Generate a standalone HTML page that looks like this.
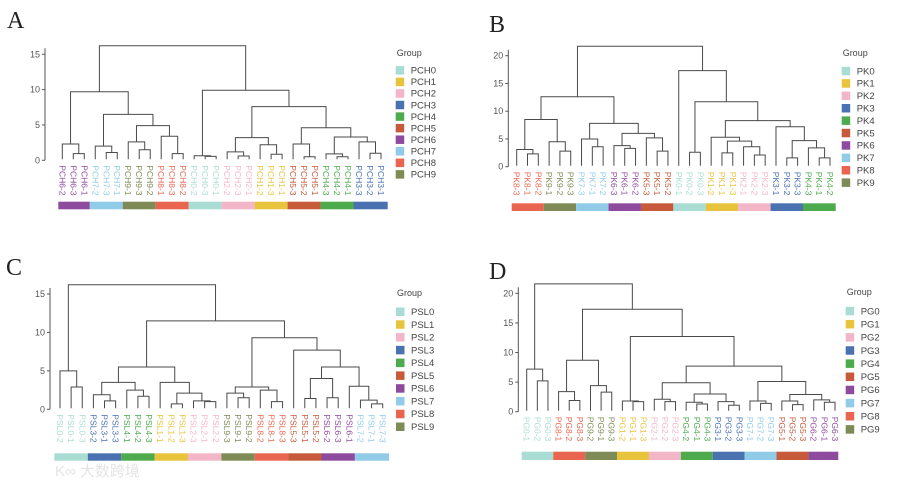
<!DOCTYPE html>
<html><head><meta charset="utf-8"><style>
html,body{margin:0;padding:0;background:#fff;}
svg{display:block;font-family:"Liberation Sans",sans-serif;}
</style></head><body>
<svg id="fig" width="900" height="489" viewBox="0 0 900 489">
<text x="55" y="476" font-family="Liberation Sans,'Noto Sans CJK SC',sans-serif" font-size="15" fill="#e4e4e4">K∞ 大数跨境</text>
</svg>
<script>
// Group colors
const groupColors = ["#a9dcd2","#e8c33c","#f2b6c8","#4a72b0","#4daa4d","#c65a3b","#8e4b9e","#90cbe8","#e9654f","#7e8b56"];
// Tick values
const ticksA = [0,5,10,15];
const ticksB = [0,5,10,15,20];
const ticksC = [0,5,10,15];
const ticksD = [0,5,10,15,20];
// Legend labels
const legendA = ["PCH0","PCH1","PCH2","PCH3","PCH4","PCH5","PCH6","PCH7","PCH8","PCH9"];
const legendB = ["PK0","PK1","PK2","PK3","PK4","PK5","PK6","PK7","PK8","PK9"];
const legendC = ["PSL0","PSL1","PSL2","PSL3","PSL4","PSL5","PSL6","PSL7","PSL8","PSL9"];
const legendD = ["PG0","PG1","PG2","PG3","PG4","PG5","PG6","PG7","PG8","PG9"];
// Trees: [mergeHeight, left, right]; leaves are sample names
const treeA = [16.2,
  [9.7,[2.3,"PCH6-2",[0.95,"PCH6-3","PCH6-1"]],
       [6.5,[2.0,"PCH7-2",[1.1,"PCH7-3","PCH7-1"]],
            [4.9,[2.6,"PCH9-1",[1.5,"PCH9-3","PCH9-2"]],[3.4,"PCH8-1",[0.95,"PCH8-3","PCH8-2"]]]]],
  [9.9,[0.65,"PCH0-2",[0.55,"PCH0-3","PCH0-1"]],
       [7.6,[3.2,[1.2,"PCH2-2",[0.6,"PCH2-3","PCH2-1"]],[2.2,"PCH1-2",[0.85,"PCH1-3","PCH1-1"]]],
            [4.6,[2.3,"PCH5-3",[0.5,"PCH5-2","PCH5-1"]],
                 [3.3,[0.9,"PCH4-3",[0.5,"PCH4-2","PCH4-1"]],[2.6,"PCH3-3",[1.0,"PCH3-2","PCH3-1"]]]]]]];
const treeB = [21.7,
  [12.6,[8.5,[3.1,"PK8-3",[2.3,"PK8-1","PK8-2"]],[4.5,"PK9-1",[2.8,"PK9-2","PK9-3"]]],
        [7.8,[5.0,"PK7-3",[3.6,"PK7-1","PK7-2"]],
             [6.0,[3.8,"PK6-3",[3.3,"PK6-1","PK6-2"]],[5.2,"PK5-3",[2.8,"PK5-1","PK5-2"]]]]],
  [17.3,"PK0-1",
        [11.7,[2.6,"PK0-2","PK0-3"],
              [8.3,[5.3,"PK1-2",[4.6,[2.5,"PK1-1","PK1-3"],[3.6,"PK2-1",[2.1,"PK2-2","PK2-3"]]]],
                   [7.2,"PK3-1",[4.7,[1.6,"PK3-2","PK3-3"],[3.4,"PK4-3",[1.6,"PK4-1","PK4-2"]]]]]]]];
const treeC = [16.2,
  [5.0,"PSL0-2",[2.9,"PSL0-1","PSL0-3"]],
  [11.5,[5.5,[3.5,[1.9,"PSL3-2",[1.1,"PSL3-1","PSL3-3"]],[2.5,"PSL4-1",[1.7,"PSL4-2","PSL4-3"]]],
             [3.5,"PSL1-1",[2.1,[0.7,"PSL1-2","PSL1-3"],[1.1,"PSL2-3",[1.0,"PSL2-1","PSL2-2"]]]]],
        [9.3,[2.9,[2.1,"PSL9-3",[1.5,"PSL9-1","PSL9-2"]],[2.5,"PSL8-2",[1.0,"PSL8-1","PSL8-3"]]],
             [7.7,"PSL5-3",[5.5,[4.0,[1.4,"PSL5-1","PSL5-2"],[1.5,"PSL6-2","PSL6-3"]],
                                [3.0,"PSL6-1",[1.2,"PSL7-2",[0.7,"PSL7-1","PSL7-3"]]]]]]]];
const treeD = [21.6,
  [7.2,"PG0-1",[5.2,"PG0-2","PG0-3"]],
  [17.3,[8.7,[3.4,"PG8-1",[1.9,"PG8-2","PG8-3"]],[4.4,"PG9-2",[3.3,"PG9-1","PG9-3"]]],
        [12.7,[1.8,"PG1-2",[1.7,"PG1-1","PG1-3"]],
              [7.7,[4.9,[2.1,"PG2-1",[1.7,"PG2-2","PG2-3"]],
                        [3.0,[1.6,"PG4-2",[1.3,"PG4-1","PG4-3"]],[1.7,"PG3-1",[1.1,"PG3-2","PG3-3"]]]],
                   [5.1,[1.8,"PG7-1",[1.4,"PG7-2","PG7-3"]],
                        [2.9,[1.8,"PG5-1",[1.2,"PG5-2","PG5-3"]],[2.0,"PG6-2",[1.6,"PG6-1","PG6-3"]]]]]]]];

const NS="http://www.w3.org/2000/svg";
const svg=document.getElementById('fig');
function mk(tag,attrs,parent){const e=document.createElementNS(NS,tag);for(const k in attrs)e.setAttribute(k,attrs[k]);(parent||svg).appendChild(e);return e;}
function grp(leaf){const m=leaf.match(/(\d)-\d$/);return +m[1];}

function drawPanel(letter,tree,ticks,legend,G){
  const g=mk('g',{});
  
  
  const yScale=v=>G.y0-v*G.pxPerUnit;
  const leaves=[];(function walk(n){if(typeof n==='string'){leaves.push(n);return;}walk(n[1]);walk(n[2]);})(tree);
  const step=(G.xLast-G.xFirst)/(leaves.length-1);
  const xScale=i=>G.xFirst+i*step;
  // panel letter
  const t=mk('text',{x:G.lx,y:G.ly,'font-family':'Liberation Serif,serif','font-size':24,fill:'#222'},g);
  t.textContent=letter;
  
  
  // y axis
  const ax=mk('g',{},g);
  
  
  const top=yScale(ticks[ticks.length-1])-6;
  mk('line',{x1:G.ax,x2:G.ax,y1:yScale(0),y2:top,stroke:'#555','stroke-width':1},ax);
  ticks.forEach(v=>{
    mk('line',{x1:G.ax-3,x2:G.ax,y1:yScale(v),y2:yScale(v),stroke:'#555','stroke-width':1},ax);
    const tl=mk('text',{x:G.ax-5,y:yScale(v)+3,'font-size':9,fill:'#555','text-anchor':'end'},ax);
    tl.textContent=v;
    
    
  });
  // dendrogram
  const dg=mk('g',{fill:'none',stroke:'#4a4a4a','stroke-width':1},g);
  
  
  let idx=0;
  function draw(n){
    if(typeof n==='string'){const x=xScale(idx++);return {x:x,y:yScale(0)-1};}
    const a=draw(n[1]),b=draw(n[2]);const y=yScale(n[0]);
    const p=mk('path',{d:`M${a.x},${a.y}V${y}H${b.x}V${b.y}`},dg);
    
    
    return {x:(a.x+b.x)/2,y:y};
  }
  draw(tree);
  // leaf labels
  leaves.forEach((lf,i)=>{
    const x=xScale(i),y=G.y0+5;
    const tl=mk('text',{x:0,y:0,'font-size':8.5,fill:groupColors[grp(lf)],transform:`translate(${x-3},${y}) rotate(90)`},g);
    tl.textContent=lf;
    
    
  });
  // color bar
  let s=0;
  for(let i=1;i<=leaves.length;i++){
    if(i===leaves.length||grp(leaves[i])!==grp(leaves[s])){
      const x1=(s===0)?G.barL:xScale(s)-step/2, x2=(i===leaves.length)?G.barR:xScale(i)-step/2;
      const r=mk('rect',{x:x1,y:G.barY,width:x2-x1,height:G.barH,fill:groupColors[grp(leaves[s])]},g);
      
      
      s=i;
    }
  }
  // legend
  const lg=mk('g',{},g);
  
  
  const gt=mk('text',{x:G.legX+1,y:G.legTitleY,'font-size':9,fill:'#444'},lg);
  gt.textContent='Group';
  
  
  legend.forEach((name,i)=>{
    const cy=G.legY0+i*G.legStep;
    const e=mk('g',{},lg);
    
    
    mk('rect',{x:G.legX,y:cy-4.2,width:8.5,height:8.5,fill:groupColors[i]},e);
    const lt=mk('text',{x:G.legX+15,y:cy+3.3,'font-size':9.5,fill:'#444'},e);
    lt.textContent=name;
  });
}
drawPanel('A',treeA,ticksA,legendA,{y0:160.3,pxPerUnit:7.07,ax:45,xFirst:62.3,xLast:381,barL:58.3,barR:387.7,barY:201.7,barH:7.6,legX:395.7,legTitleY:56,legY0:70.3,legStep:11.56,lx:7,ly:28});
drawPanel('B',treeB,ticksB,legendB,{y0:166.7,pxPerUnit:5.55,ax:508.3,xFirst:516.7,xLast:830,barL:511.7,barR:835.7,barY:203.3,barH:7.7,legX:841.7,legTitleY:56,legY0:71,legStep:12.4,lx:489,ly:32});
drawPanel('C',treeC,ticksC,legendC,{y0:409.3,pxPerUnit:7.69,ax:50,xFirst:60,xLast:382.7,barL:54.3,barR:389,barY:453.3,barH:7.4,legX:396,legTitleY:296,legY0:311.7,legStep:12.78,lx:6,ly:275});
drawPanel('D',treeD,ticksD,legendD,{y0:411.7,pxPerUnit:5.92,ax:518.3,xFirst:526.7,xLast:835,barL:521.7,barR:838.3,barY:451.7,barH:8.3,legX:845.7,legTitleY:295,legY0:311,legStep:13.15,lx:489,ly:279});
</script>
</body></html>
